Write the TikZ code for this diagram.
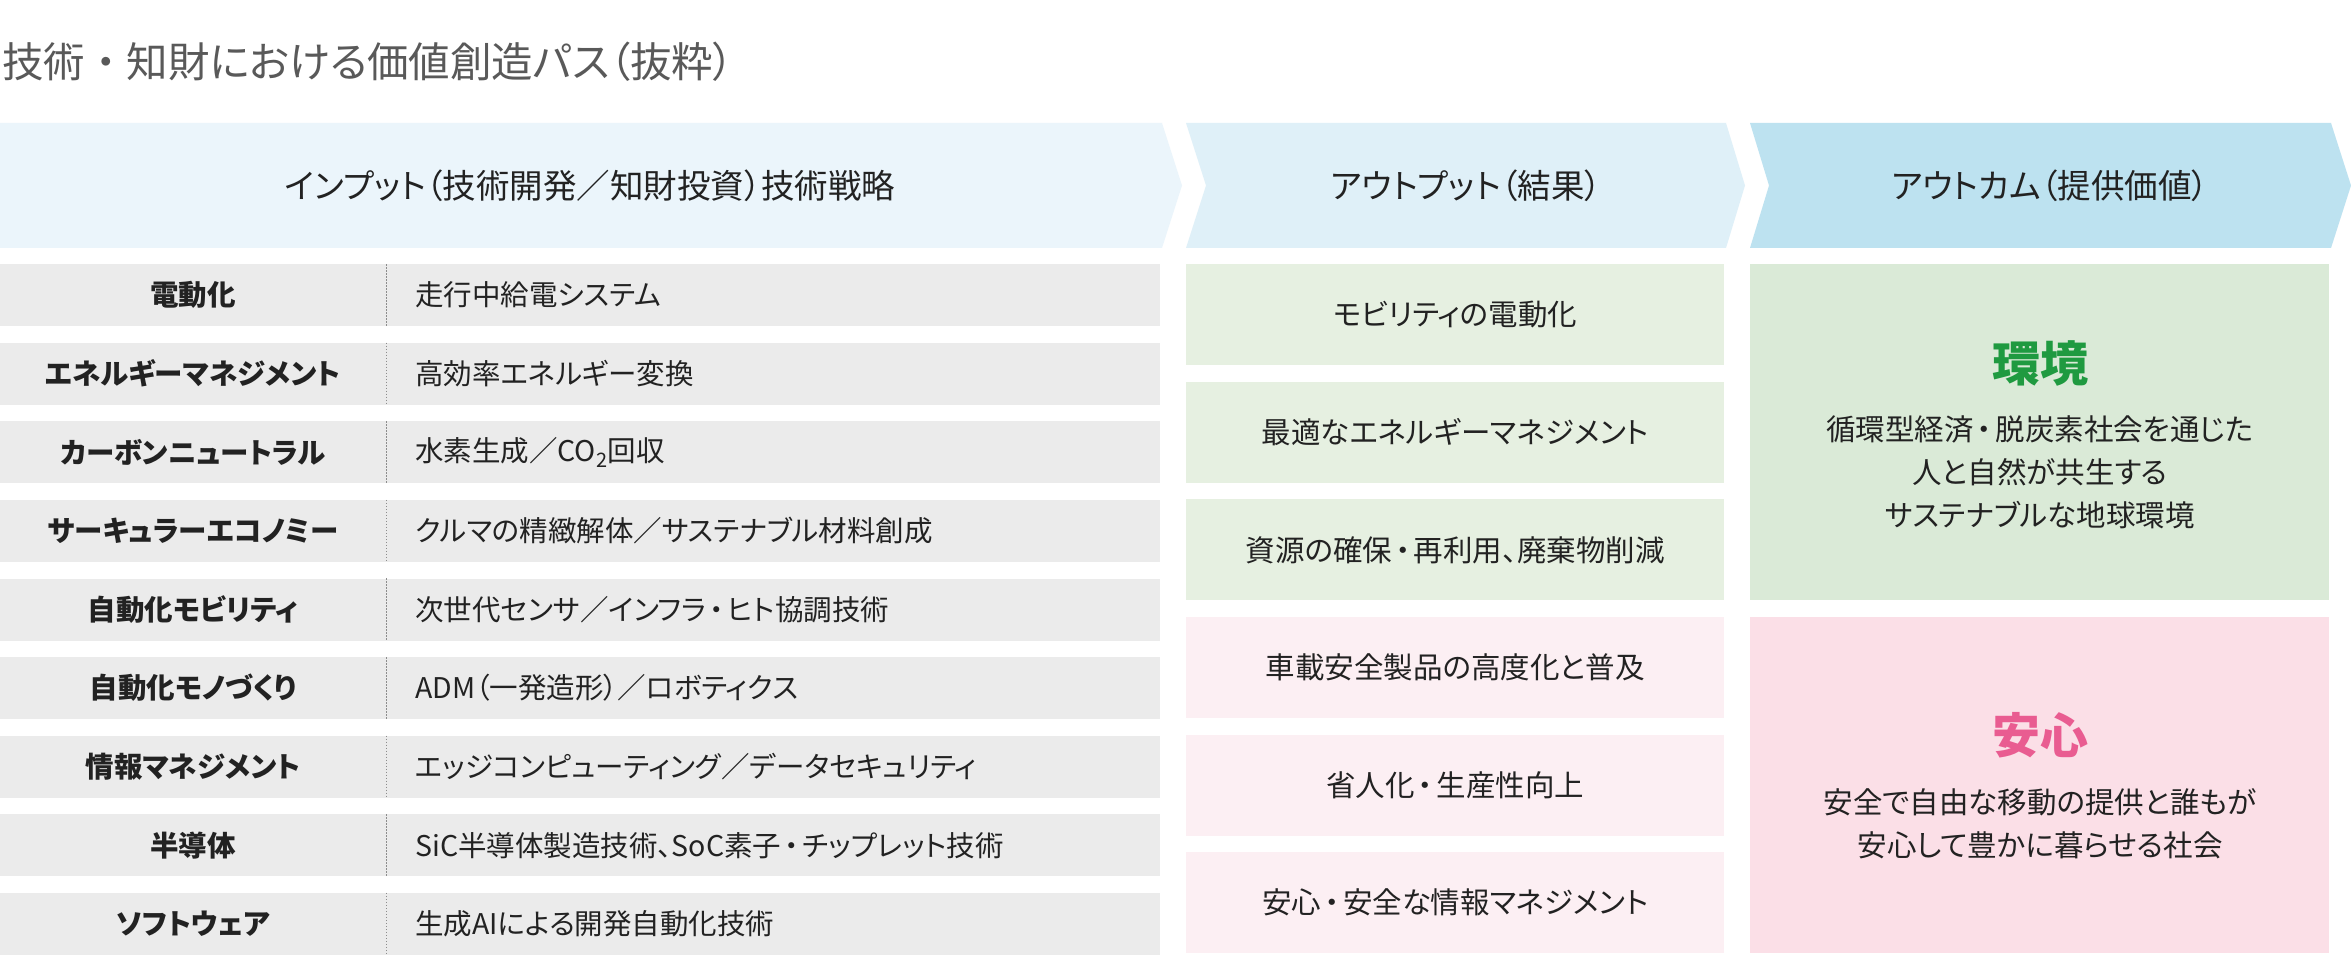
\documentclass[tikz,border=0pt]{standalone}
\usepackage{fontspec}
\newfontfamily\jp{Noto Sans CJK JP}[RawFeature=+palt]
\newfontfamily\jpfull{Noto Sans CJK JP}
\newcommand\ndot{\hspace{0.12em}・\hspace{0.12em}}
\newcommand\tdot{{\jpfull ・}}
\definecolor{titlegray}{HTML}{595959}
\definecolor{txt}{HTML}{222222}
\definecolor{hin}{HTML}{EBF5FB}
\definecolor{hout}{HTML}{DFF0F8}
\definecolor{hoc}{HTML}{BDE2F0}
\definecolor{rowgray}{HTML}{EBEBEB}
\definecolor{divgray}{HTML}{8C8C8C}
\definecolor{outgreen}{HTML}{E6F0E1}
\definecolor{ocgreen}{HTML}{DAEAD7}
\definecolor{outpink}{HTML}{FCEFF3}
\definecolor{ocpink}{HTML}{FBDFE7}
\definecolor{envgreen}{HTML}{1F9A40}
\definecolor{anpink}{HTML}{E95C91}
\tikzset{
  hdrtext/.style={font=\jp\fontsize{33.5}{40}\selectfont, text=txt},
  rowbox/.style={fill=rowgray, draw=none, anchor=north west, minimum width=1160pt, minimum height=62pt, inner sep=0pt},
  lbltext/.style={font=\jp\bfseries\fontsize{28.5}{34}\selectfont, text=txt},
  itemtext/.style={font=\jp\fontsize{28.5}{34}\selectfont, text=txt, anchor=west, inner sep=0pt},
  divider/.style={draw=divgray, line width=1.2pt, dash pattern=on 1.5pt off 1.5pt},
  outbox/.style={draw=none, anchor=north west, minimum width=538pt, minimum height=101pt, inner sep=0pt},
  outtext/.style={font=\jp\fontsize{29.5}{36}\selectfont, text=txt},
  ocbox/.style={draw=none, anchor=north west, minimum width=579pt, inner sep=0pt},
  bigword/.style={font=\jp\bfseries\fontsize{48}{56}\selectfont},
  desctext/.style={font=\jp\fontsize{29.5}{43}\selectfont, text=txt, align=center},
}
\begin{document}
\begin{tikzpicture}[x=1pt,y=-1pt]
\useasboundingbox (0,0) rectangle (2351,960);
\fill[white] (0,0) rectangle (2351,960);
% title
\node[font=\jp\fontsize{41.5}{48}\selectfont, text=titlegray, anchor=west, inner sep=0pt] (title) at (2,62) {技術\tdot 知財における価値創造パス（抜粋）};
% header bands
\fill[hin] (0,123) -- (1162,123) -- (1182,185.5) -- (1162,248) -- (0,248) -- cycle;
\fill[hout] (1186,123) -- (1726,123) -- (1745,185.5) -- (1726,248) -- (1186,248) -- (1206,185.5) -- cycle;
\fill[hoc] (1750,123) -- (2331,123) -- (2351,185.5) -- (2331,248) -- (1750,248) -- (1769,185.5) -- cycle;
\node[hdrtext] (hinput) at (590,186) {インプット（技術開発／知財投資）技術戦略};
\node[hdrtext] (houtput) at (1466,186) {アウトプット（結果）};
\node[hdrtext] (houtcome) at (2050,186) {アウトカム（提供価値）};
% input rows
\foreach \i/\a/\b in {
  1/電動化/走行中給電システム,
  2/エネルギーマネジメント/高効率エネルギー変換,
  3/カーボンニュートラル/水素生成／CO\textsubscript{2}回収,
  4/サーキュラーエコノミー/クルマの精緻解体／サステナブル材料創成,
  5/自動化モビリティ/次世代センサ／インフラ\ndot ヒト協調技術,
  6/自動化モノづくり/ADM（一発造形）／ロボティクス,
  7/情報マネジメント/エッジコンピューティング／データセキュリティ,
  8/半導体/SiC半導体製造技術、SoC素子\ndot チップレット技術,
  9/ソフトウェア/生成AIによる開発自動化技術}{
  \pgfmathsetmacro\top{264+(\i-1)*78.6}
  \node[rowbox] (r\i) at (0,\top) {};
  \draw[divider] (386.5,\top) -- (386.5,\top+62);
  \node[lbltext] (l\i) at (193,\top+31) {\a};
  \node[itemtext] (t\i) at (415,\top+31) {\b};
}
% output boxes
\foreach \k/\c/\s in {
  1/outgreen/モビリティの電動化,
  2/outgreen/最適なエネルギーマネジメント,
  3/outgreen/資源の確保\ndot 再利用、廃棄物削減,
  4/outpink/車載安全製品の高度化と普及,
  5/outpink/省人化\ndot 生産性向上,
  6/outpink/安心\ndot 安全な情報マネジメント}{
  \pgfmathsetmacro\top{264+(\k-1)*117.6}
  \node[outbox, fill=\c] (o\k) at (1186,\top) {};
  \node[outtext] (ot\k) at (o\k.center) {\s};
}
% outcome boxes
\node[ocbox, fill=ocgreen, minimum height=336pt] (env) at (1750,264) {};
\node[bigword, text=envgreen] (envt) at (2040,363) {環境};
\node[desctext] (envd) at (2040,472) {循環型経済\ndot 脱炭素社会を通じた\\人と自然が共生する\\サステナブルな地球環境};
\node[ocbox, fill=ocpink, minimum height=336pt] (an) at (1750,616.8) {};
\node[bigword, text=anpink] (ant) at (2040,735) {安心};
\node[desctext] (and) at (2040,823.5) {安全で自由な移動の提供と誰もが\\安心して豊かに暮らせる社会};
\end{tikzpicture}
\end{document}
